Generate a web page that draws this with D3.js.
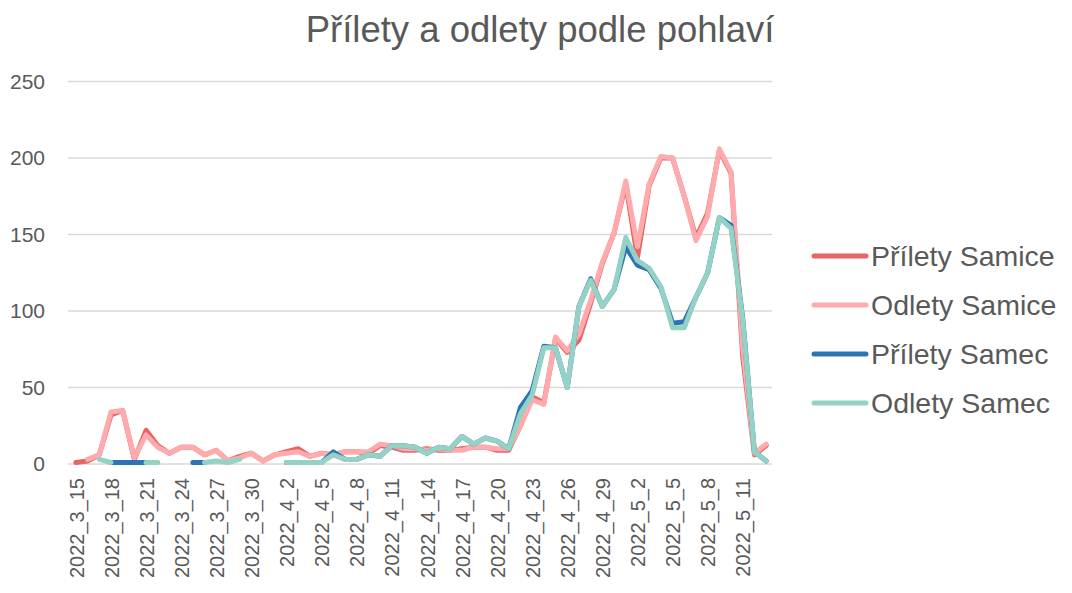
<!DOCTYPE html>
<html>
<head>
<meta charset="utf-8">
<script src="https://cdn.jsdelivr.net/npm/d3@7"></script>
<style>
  body { margin: 0; background: #fff; }
  text { font-family: "Liberation Sans", Arial, sans-serif; fill: #595959; }
</style>
</head>
<body>
<script>
var days = [
  "2022_3_15", "2022_3_16", "2022_3_17", "2022_3_18", "2022_3_19", "2022_3_20",
  "2022_3_21", "2022_3_22", "2022_3_23", "2022_3_24", "2022_3_25", "2022_3_26",
  "2022_3_27", "2022_3_28", "2022_3_29", "2022_3_30", "2022_3_31", "2022_4_1",
  "2022_4_2", "2022_4_3", "2022_4_4", "2022_4_5", "2022_4_6", "2022_4_7",
  "2022_4_8", "2022_4_9", "2022_4_10", "2022_4_11", "2022_4_12", "2022_4_13",
  "2022_4_14", "2022_4_15", "2022_4_16", "2022_4_17", "2022_4_18", "2022_4_19",
  "2022_4_20", "2022_4_21", "2022_4_22", "2022_4_23", "2022_4_24", "2022_4_25",
  "2022_4_26", "2022_4_27", "2022_4_28", "2022_4_29", "2022_4_30", "2022_5_1",
  "2022_5_2", "2022_5_3", "2022_5_4", "2022_5_5", "2022_5_6", "2022_5_7",
  "2022_5_8", "2022_5_9", "2022_5_10", "2022_5_11", "2022_5_12", "2022_5_13"
];

var prilety_samice = [
  1, 2, 6, 32, 35, 3, 22, 12, 7, 11, 11, 6,
  9, 2, 5, 7, 2, 6, 8, 10, 5, 7, 6, 8,
  8, 7, 12, 11, 9, 9, 10, 9, 9, 10, 11, 11,
  9, 9, 25, 44, 40, 82, 73, 81, 105, 131, 151, 183,
  135, 182, 200, 200, 175, 148, 164, 205, 190, 70, 6, 12
];
var odlety_samice = [
  null, 3, 6, 34, 35, 4, 19, 11, 7, 11, 11, 6,
  9, 2, 4, 7, 2, 6, 7, 8, 5, 7, 6, 8,
  8, 8, 13, 12, 10, 10, 9, 10, 9, 9, 11, 11,
  10, 10, 25, 42, 39, 83, 74, 85, 107, 132, 151, 185,
  142, 183, 201, 200, 175, 146, 162, 206, 191, 76, 7, 13
];
var prilety_samec = [
  null, null, null, 1, 1, 1, 1, null, null, null, 1, 1,
  null, null, null, null, null, null, 1, 1, 1, 1, 8, 3,
  3, 6, 5, 12, 12, 11, 7, 11, 10, 18, 13, 17,
  15, 10, 37, 48, 77, 76, 50, 103, 121, 103, 114, 142,
  130, 127, 115, 92, 93, 109, 125, 161, 156, 95, 8, 2
];
var odlety_samec = [
  null, null, 3, 1, null, null, 1, 1, null, null, null, 1,
  2, 1, 3, null, null, null, 1, 1, 1, 1, 6, 3,
  3, 6, 5, 12, 12, 11, 7, 11, 10, 18, 13, 17,
  15, 10, 33, 45, 76, 76, 50, 103, 120, 103, 114, 148,
  133, 128, 116, 89, 89, 109, 125, 161, 154, 94, 8, 2
];

var series_names = ["Přílety Samice", "Odlety Samice", "Přílety Samec", "Odlety Samec"];
var series_colors = ["#e66565", "#ffabae", "#2e74b5", "#93d2c4"];
var y_ticks = [0, 50, 100, 150, 200, 250];

var width = 1072, height = 593;
var plot_left = 70, plot_right = 772, plot_top = 81.5, plot_bottom = 464;

var svg = d3.select("body").append("svg")
  .attr("width", width).attr("height", height);

var x = d3.scalePoint().domain(days).range([plot_left, plot_right]).padding(0.5);
var y = d3.scaleLinear().domain([0, 250]).range([plot_bottom, plot_top]);

// gridlines
svg.append("g").selectAll("line").data(y_ticks).enter().append("line")
  .attr("x1", plot_left - 2).attr("x2", plot_right)
  .attr("y1", function(d) { return y(d); })
  .attr("y2", function(d) { return y(d); })
  .attr("stroke", "#d9d9d9").attr("stroke-width", 1.5);

// y axis labels
var yAxis = svg.append("g")
  .attr("transform", "translate(" + (plot_left - 25) + ",0)")
  .call(d3.axisLeft(y).tickValues(y_ticks).tickSize(0).tickPadding(0));
yAxis.select(".domain").remove();
yAxis.selectAll("text")
  .style("font-size", "21px")
  .style("font-family", "Liberation Sans, Arial, sans-serif")
  .attr("fill", "#595959");

// x axis labels
var xAxis = svg.append("g")
  .attr("transform", "translate(0," + plot_bottom + ")")
  .call(d3.axisBottom(x)
    .tickValues(days.filter(function(d, i) { return i % 3 === 0; }))
    .tickSize(0).tickPadding(0));
xAxis.select(".domain").remove();
xAxis.selectAll("text")
  .attr("transform", "rotate(-90)")
  .attr("text-anchor", "end")
  .attr("x", -14).attr("y", 0).attr("dy", "0.36em")
  .style("font-size", "20px")
  .style("font-family", "Liberation Sans, Arial, sans-serif")
  .attr("fill", "#595959");

// lines
var all_series = [prilety_samice, odlety_samice, prilety_samec, odlety_samec];
var line = d3.line()
  .defined(function(d) { return d !== null; })
  .x(function(d, i) { return x(days[i]); })
  .y(function(d) { return y(d); });

svg.append("g").selectAll("path").data(all_series).enter().append("path")
  .attr("d", line)
  .attr("fill", "none")
  .attr("stroke", function(d, i) { return series_colors[i]; })
  .attr("stroke-width", 5)
  .attr("stroke-linejoin", "round")
  .attr("stroke-linecap", "round");

// title
svg.append("text")
  .attr("x", 540).attr("y", 42)
  .attr("text-anchor", "middle")
  .style("font-size", "36.5px")
  .text("Přílety a odlety podle pohlaví");

// legend
var legend = svg.append("g").selectAll("g").data(series_names).enter().append("g")
  .attr("transform", function(d, i) { return "translate(812," + (256 + i * 49) + ")"; });
legend.append("line")
  .attr("x1", 2).attr("x2", 54).attr("y1", 0).attr("y2", 0)
  .attr("stroke", function(d, i) { return series_colors[i]; })
  .attr("stroke-width", 5).attr("stroke-linecap", "round");
legend.append("text")
  .attr("x", 59).attr("y", 0).attr("dy", "0.36em")
  .style("font-size", "28.5px")
  .text(function(d) { return d; });
</script>
</body>
</html>
